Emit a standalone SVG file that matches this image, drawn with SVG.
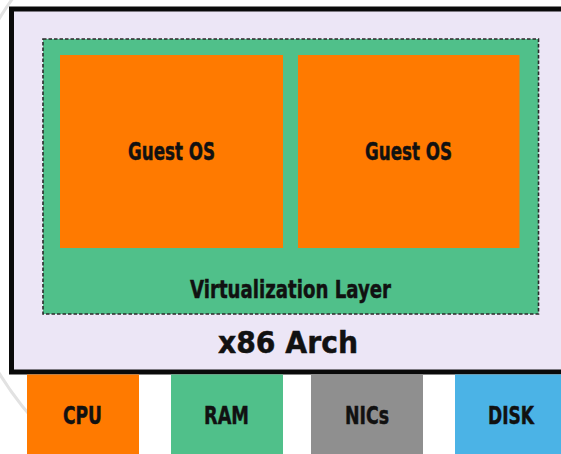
<svg xmlns="http://www.w3.org/2000/svg" width="561" height="454" viewBox="0 0 561 454">
  <style>
    .lbl { font-family: "DejaVu Sans", sans-serif; font-weight: bold; fill: #111; stroke: #111; stroke-width: 0.5; text-anchor: middle; }
    .s22 { font-size: 24px; }
    .s29 { font-size: 31px; }
    .hw { stroke: none; }
  </style>
  <rect width="561" height="454" fill="#ffffff"/>
  <!-- faint background ring -->
  <circle cx="287" cy="196" r="338" fill="none" stroke="#e2e2e2" stroke-width="3"/>

  <g id="x86-arch">
    <rect x="11.5" y="9" width="560" height="363" fill="#ece6f6" stroke="#0a0a0a" stroke-width="5"/>
    <text class="lbl s29" x="288" y="353" textLength="140" lengthAdjust="spacingAndGlyphs">x86 Arch</text>
  </g>

  <g id="virtualization-layer">
    <rect x="43" y="39" width="495.5" height="275" fill="#50c08a" stroke="#2a2a2a" stroke-width="1.6" stroke-dasharray="3.5 2"/>
    <text class="lbl s22" x="290.5" y="298" textLength="201" lengthAdjust="spacingAndGlyphs">Virtualization Layer</text>
  </g>

  <g id="guest-os-1">
    <rect class="hw" x="60" y="55" width="223" height="193" fill="#ff7a00"/>
    <text class="lbl s22" x="171.5" y="160" textLength="87" lengthAdjust="spacingAndGlyphs">Guest OS</text>
  </g>

  <g id="guest-os-2">
    <rect class="hw" x="298" y="55" width="221.5" height="193" fill="#ff7a00"/>
    <text class="lbl s22" x="408.5" y="160" textLength="87" lengthAdjust="spacingAndGlyphs">Guest OS</text>
  </g>

  <g id="cpu">
    <rect class="hw" x="27" y="374.5" width="112" height="80" fill="#ff7a00"/>
    <text class="lbl s22" x="82.5" y="424" textLength="39" lengthAdjust="spacingAndGlyphs">CPU</text>
  </g>

  <g id="ram">
    <rect class="hw" x="171" y="374.5" width="112" height="80" fill="#50c08a"/>
    <text class="lbl s22" x="226.5" y="424" textLength="45" lengthAdjust="spacingAndGlyphs">RAM</text>
  </g>

  <g id="nics">
    <rect class="hw" x="311" y="374.5" width="112" height="80" fill="#8f8f8f"/>
    <text class="lbl s22" x="367" y="424" textLength="44" lengthAdjust="spacingAndGlyphs">NICs</text>
  </g>

  <g id="disk">
    <rect class="hw" x="455" y="374.5" width="112" height="80" fill="#4bb3e6"/>
    <text class="lbl s22" x="511" y="424" textLength="46" lengthAdjust="spacingAndGlyphs">DISK</text>
  </g>

  <g id="connectors"></g>
</svg>
